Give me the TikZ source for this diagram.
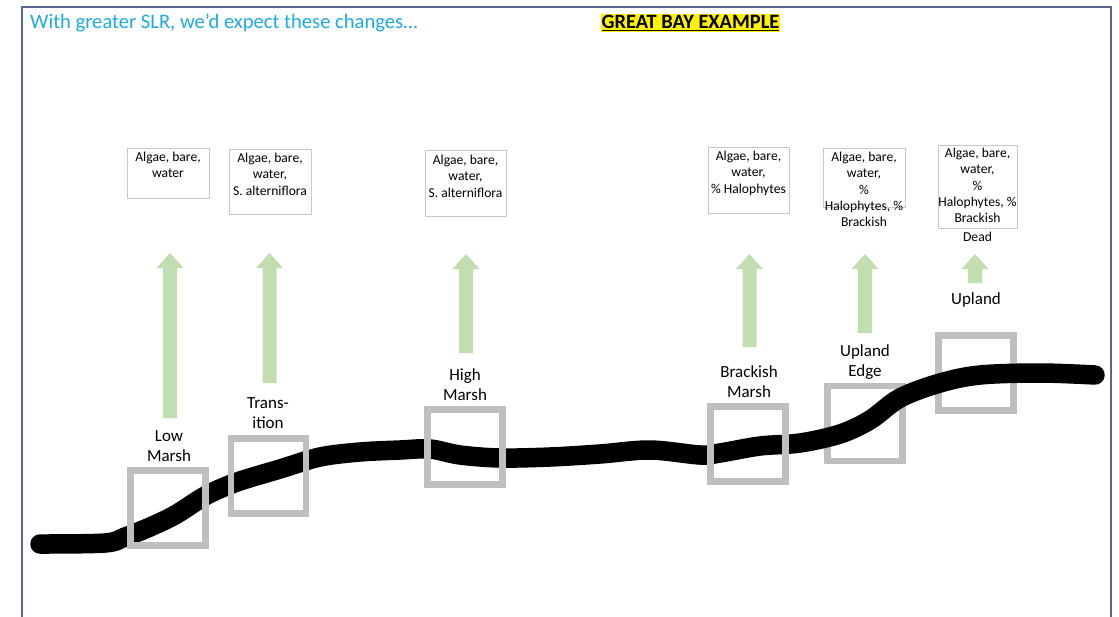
\documentclass[tikz,border=0pt]{standalone}
\usepackage{fontspec}
\setmainfont{Carlito}
\definecolor{framec}{RGB}{88,104,140}
\definecolor{titleblue}{RGB}{30,170,228}
\definecolor{arrowgreen}{RGB}{192,222,176}
\definecolor{sqgray}{RGB}{191,191,191}
\definecolor{tboxgray}{RGB}{200,200,200}
\newcommand\gbarrow[4]{% name, x, ybottom, ytop
  \coordinate (#1) at (#2,#4);
  \fill[arrowgreen] (#2-7,#3) -- (#2-7,#4+15) -- (#2-13.5,#4+15) -- (#1) -- (#2+13.5,#4+15) -- (#2+7,#4+15) -- (#2+7,#3) -- cycle;}
\begin{document}
\begin{tikzpicture}[x=1pt,y=-1pt,
  tbox/.style={draw=tboxgray, line width=0.8pt, inner sep=0pt},
  btext/.style={anchor=north, align=center, inner sep=0pt, font=\fontsize{13.6}{16.4}\selectfont},
  lbl/.style={align=center, inner sep=0pt, font=\fontsize{17}{19.8}\selectfont},
  sq/.style={draw=sqgray, line width=6.5pt, inner sep=0pt, minimum width=75pt, minimum height=75pt}]
\useasboundingbox (0,0) rectangle (1119,616);
\fill[white] (0,0) rectangle (1119,616);
% frame
\draw[framec, line width=1.6pt] (22,620) -- (22,7) -- (1111,7) -- (1111,620);
% titles
\node[anchor=west, inner sep=0pt, text=titleblue, font=\fontsize{20.6}{24}\selectfont] (title) at (30,23) {With greater SLR, we’d expect these changes…};
\node[fill=yellow, inner xsep=1pt, inner ysep=1.5pt, font=\fontsize{20.4}{24}\bfseries\selectfont] (gb) at (690.5,23) {\underline{GREAT BAY EXAMPLE}};
% text boxes
\node[tbox, minimum width=82pt, minimum height=50pt] (b1) at (168,173) {};
\node[btext] (t1) at ([yshift=-4pt]b1.north) {Algae, bare,\\water};
\node[tbox, minimum width=82pt, minimum height=65pt] (b2) at (270,181.5) {};
\node[btext] (t2) at ([yshift=-4pt]b2.north) {Algae, bare,\\water,\\S. alterniflora};
\node[tbox, minimum width=81pt, minimum height=66pt] (b3) at (465.5,183) {};
\node[btext] (t3) at ([yshift=-5pt]b3.north) {Algae, bare,\\water,\\S. alterniflora};
\node[tbox, minimum width=81pt, minimum height=66pt] (b4) at (748.5,180) {};
\node[btext] (t4) at ([yshift=-4pt]b4.north) {Algae, bare,\\water,\\\% Halophytes};
\node[tbox, minimum width=82pt, minimum height=59pt] (b5) at (864,177.5) {};
\node[btext] (t5) at ([yshift=-4pt]b5.north) {Algae, bare,\\water,\\\%\\Halophytes, \%\\Brackish};
\node[tbox, minimum width=79pt, minimum height=83pt] (b6) at (977.5,186.5) {};
\node[btext] (t6) at ([yshift=-3pt]b6.north) {Algae, bare,\\water,\\\%\\Halophytes, \%\\Brackish\\[2.5pt]Dead};
% green arrows
\gbarrow{a1}{170}{418}{253}
\gbarrow{a2}{269.5}{383}{253}
\gbarrow{a3}{466}{353}{254}
\gbarrow{a4}{749.5}{347}{254}
\gbarrow{a5}{865}{333}{254}
\gbarrow{a6}{975}{283}{254}
% labels
\node[lbl] (l1) at (169,446) {Low\\Marsh};
\node[lbl] (l2) at (268,413.5) {Trans-\\ition};
\node[lbl] (l3) at (465,385) {High\\Marsh};
\node[lbl] (l4) at (749,382) {Brackish\\Marsh};
\node[lbl] (l5) at (865,362) {Upland\\Edge};
\node[lbl] (l6) at (976,300) {Upland};
% squares under the line
\node[sq] (s5) at (865,423.5) {};
\node[sq] (s6) at (976,373) {};
% ground line
\draw[black, line width=19.5pt, line cap=round, line join=round] plot[smooth, tension=0.55] coordinates {(40,544) (105,543) (125,537) (150,527) (175,515) (200,499) (215,491) (240,481) (280,469) (320,457) (360,452) (400,450) (430,449) (460,455) (500,458) (550,457) (600,454) (650,450) (700,455) (720,453) (760,446) (800,443) (840,434) (870,420) (900,398) (940,383) (980,375) (1040,373) (1095,375)};
% squares over the line
\node[sq] (s1) at (168,508) {};
\node[sq] (s2) at (268.5,476) {};
\node[sq] (s3) at (465,447) {};
\node[sq] (s4) at (748,444) {};
\end{tikzpicture}
\end{document}
